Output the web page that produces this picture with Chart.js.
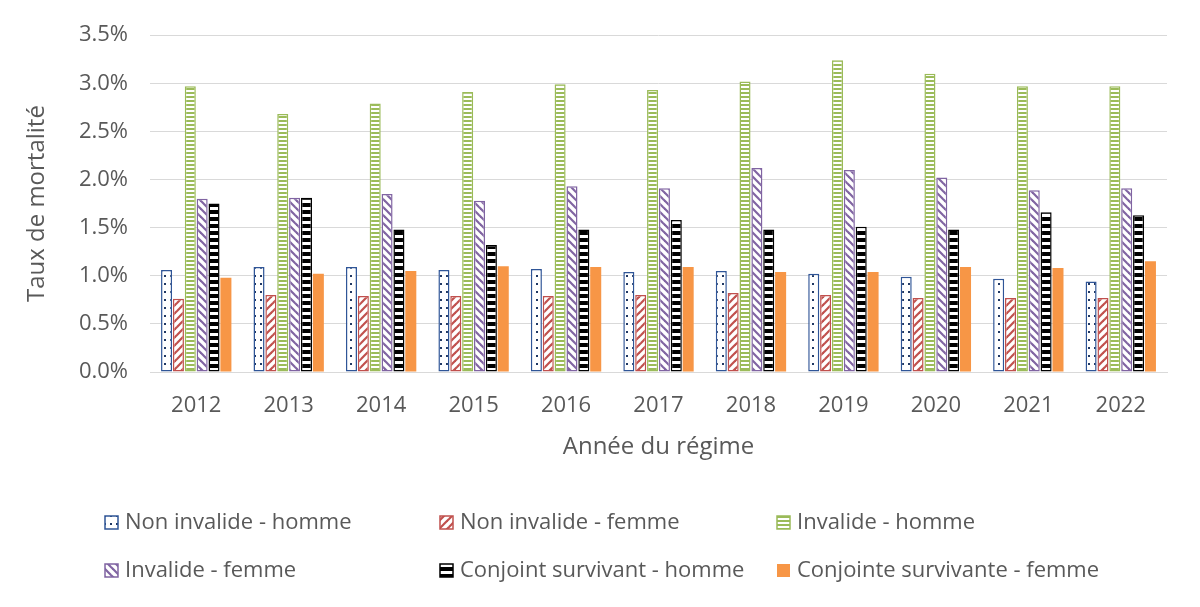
<!DOCTYPE html>
<html><head><meta charset="utf-8">
<script src="https://cdn.jsdelivr.net/npm/chart.js@4/dist/chart.umd.min.js"></script>
<style>html,body{margin:0;padding:0;background:#fff}#wrap{width:1200px;height:607px;position:relative}</style>
</head><body><div id="wrap"><canvas id="c" width="1200" height="607"></canvas></div>
<script>
const years = ['2012','2013','2014','2015','2016','2017','2018','2019','2020','2021','2022'];
const nonInvalideHomme = [1.06,1.09,1.09,1.06,1.07,1.04,1.05,1.02,0.99,0.97,0.94];
const nonInvalideFemme = [0.76,0.80,0.79,0.79,0.79,0.80,0.82,0.80,0.77,0.77,0.77];
const invalideHomme = [2.97,2.68,2.79,2.91,2.99,2.93,3.02,3.24,3.10,2.97,2.97];
const invalideFemme = [1.80,1.81,1.85,1.78,1.93,1.91,2.12,2.10,2.02,1.89,1.91];
const conjointHomme = [1.75,1.81,1.48,1.32,1.48,1.58,1.48,1.51,1.48,1.66,1.63];
const conjointeFemme = [0.98,1.02,1.05,1.10,1.09,1.09,1.04,1.04,1.09,1.08,1.15];
const yTicks = [0,0.5,1.0,1.5,2.0,2.5,3.0,3.5];

const FONT = '"Open Sans", sans-serif';
const TXT = '#595959';

function makePattern(w, h, draw){
  const c = document.createElement('canvas'); c.width = w; c.height = h;
  const g = c.getContext('2d'); g.fillStyle = '#fff'; g.fillRect(0,0,w,h); draw(g, w, h);
  return document.getElementById('c').getContext('2d').createPattern(c, 'repeat');
}
const pDots = makePattern(6, 8, g => { g.fillStyle = '#203864'; g.fillRect(2,3,2,2); });
const pUp = makePattern(8, 8, g => { g.strokeStyle = '#C0504D'; g.lineWidth = 2.2;
  for (let k=-1;k<=1;k++){ g.beginPath(); g.moveTo(-2+k*8, 10); g.lineTo(10+k*8, -2); g.stroke(); } });
const pHoriz = makePattern(4, 4, g => { g.fillStyle = '#9BBB59'; g.fillRect(0,0,4,2); });
const pDown = makePattern(8, 8, g => { g.strokeStyle = '#8064A2'; g.lineWidth = 2.2;
  for (let k=-1;k<=1;k++){ g.beginPath(); g.moveTo(-2+k*8, -2); g.lineTo(10+k*8, 10); g.stroke(); } });
const pBlack = makePattern(4, 7, g => { g.fillStyle = '#000'; g.fillRect(0,0,4,4); });

const legendPlugin = {
  id: 'gridLegend',
  afterDraw(chart){
    const ctx = chart.ctx; const cols = [105, 440, 777]; const rows = [522, 570];
    chart.data.datasets.forEach((ds, i) => {
      const x = cols[i % 3], y = rows[Math.floor(i / 3)];
      ctx.save();
      ctx.fillStyle = ds.backgroundColor; ctx.fillRect(x, y - 6, 13, 13);
      if (ds.borderWidth) { ctx.strokeStyle = ds.borderColor; ctx.lineWidth = 1.5; ctx.strokeRect(x, y - 6, 13, 13); }
      ctx.fillStyle = TXT; ctx.font = '22px ' + FONT; ctx.textBaseline = 'middle'; ctx.textAlign = 'left';
      ctx.fillText(ds.label, x + 20, y + 1);
      ctx.restore();
    });
  }
};

function ds(label, data, bg, border, bw){
  return { label, data, backgroundColor: bg, borderColor: border, borderWidth: bw, borderSkipped: false };
}

new Chart(document.getElementById('c'), {
  type: 'bar',
  data: {
    labels: years,
    datasets: [
      ds('Non invalide - homme', nonInvalideHomme, pDots, '#2F5597', 1.5),
      ds('Non invalide - femme', nonInvalideFemme, pUp, '#C0504D', 1.5),
      ds('Invalide - homme', invalideHomme, pHoriz, '#9BBB59', 1.5),
      ds('Invalide - femme', invalideFemme, pDown, '#8064A2', 1.5),
      ds('Conjoint survivant - homme', conjointHomme, pBlack, '#000000', 1.5),
      ds('Conjointe survivante - femme', conjointeFemme, '#F79646', '#F79646', 0)
    ]
  },
  options: {
    responsive: false, animation: false, devicePixelRatio: 1,
    layout: { padding: { top: 21, right: 33, bottom: 135, left: 0 } },
    plugins: { legend: { display: false }, tooltip: { enabled: false } },
    datasets: { bar: { categoryPercentage: 0.77, barPercentage: 0.93 } },
    scales: {
      x: {
        grid: { display: false, drawTicks: false },
        border: { color: '#D9D9D9', width: 1 },
        ticks: { color: TXT, font: { family: FONT, size: 22 }, padding: 21 },
        title: { display: true, text: 'Année du régime', color: TXT, font: { family: FONT, size: 24 }, padding: { top: 10, bottom: 10 } },
        afterFit(s){ s.height = 100; }
      },
      y: {
        min: 0, max: 3.5,
        grid: { color: '#D9D9D9', drawTicks: false },
        border: { display: false },
        afterBuildTicks(s){ s.ticks = yTicks.map(v => ({ value: v })); },
        ticks: { color: TXT, font: { family: FONT, size: 22 }, padding: 22, callback: v => v.toFixed(1) + '%' },
        title: { display: true, text: 'Taux de mortalité', color: TXT, font: { family: FONT, size: 24 }, padding: { top: 23, bottom: 4 } },
        afterFit(s){ s.width = 150; }
      }
    }
  },
  plugins: [legendPlugin]
});
</script></body></html>
